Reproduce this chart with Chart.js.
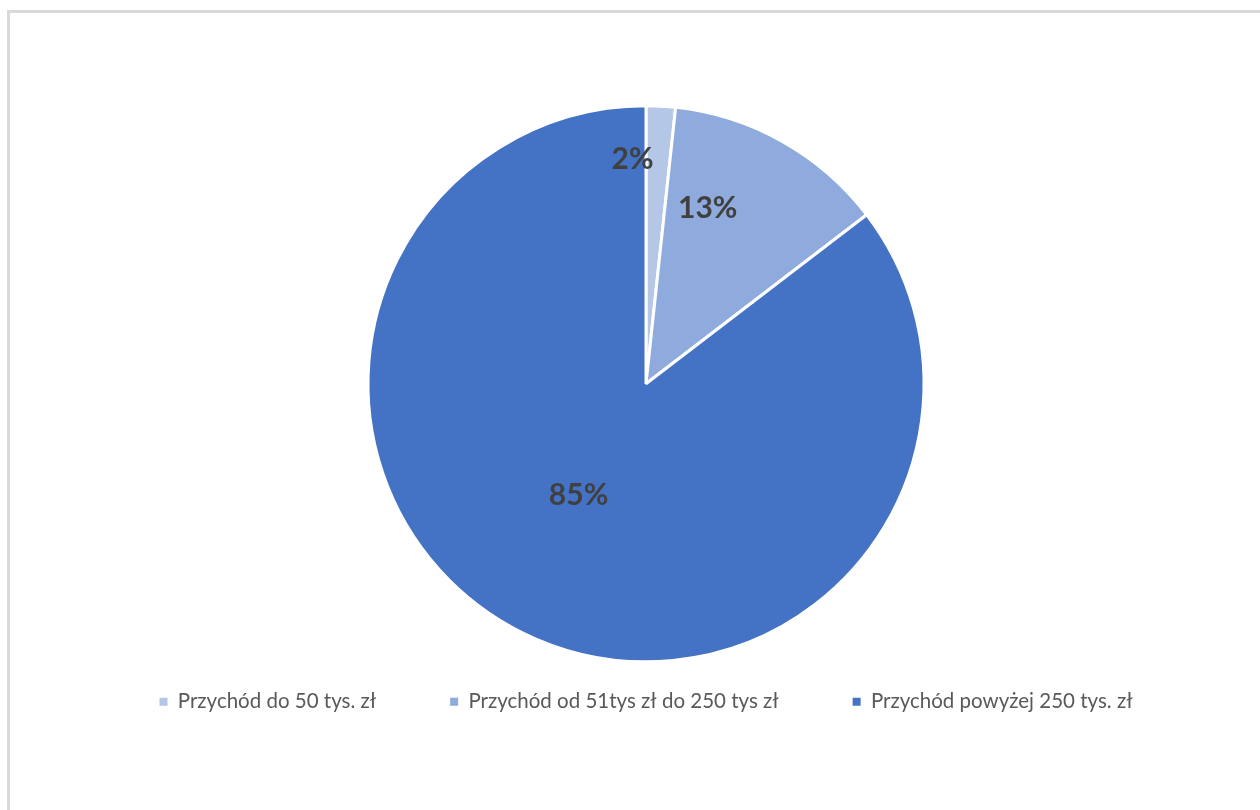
<!DOCTYPE html>
<html>
<head>
<meta charset="utf-8">
<script src="https://cdn.jsdelivr.net/npm/chart.js@4"></script>
<style>
  html, body { margin: 0; padding: 0; background: #fff; overflow: hidden; }
  body { width: 1260px; height: 810px; position: relative; }
  #frame {
    position: absolute; left: 7px; top: 10px; width: 1400px; height: 1000px;
    border-top: 3px solid #d9d9d9; border-left: 3px solid #d9d9d9;
  }
  #wrap { position: absolute; left: 10px; top: 12px; width: 1272px; height: 710px; }
</style>
</head>
<body>
<div id="frame"></div>
<div id="wrap"><canvas id="pieChart"></canvas></div>
<script>
// ---- Duomenys ----
const categories = [
  "Przychód do 50 tys. zł",
  "Przychód od 51tys zł do 250 tys zł",
  "Przychód powyżej 250 tys. zł"
];
const shares = [1.7, 12.9, 85.4];
const sliceColors = ["#b4c7e7", "#8faadc", "#4472c4"];

// ---- etikečių vietos (kampo poslinkis laipsniais, spindulio dalis) ----
const labelSpots = [
  { da: -6.5, rf: 0.81 },
  { da: -10, rf: 0.67 },
  { da: 4.8, rf: 0.47 }
];

const pctLabels = {
  id: "pctLabels",
  afterDatasetsDraw(chart) {
    const ctx = chart.ctx;
    const meta = chart.getDatasetMeta(0);
    const total = shares.reduce((a, b) => a + b, 0);
    ctx.save();
    ctx.font = "bold 30px Lato";
    ctx.fillStyle = "#404040";
    ctx.textAlign = "center";
    ctx.textBaseline = "middle";
    meta.data.forEach((arc, i) => {
      const p = arc.getProps(["x", "y", "startAngle", "endAngle", "outerRadius"], true);
      const mid = (p.startAngle + p.endAngle) / 2 + labelSpots[i].da * Math.PI / 180;
      const r = p.outerRadius * labelSpots[i].rf;
      const txt = Math.round(shares[i] / total * 100) + "%";
      ctx.fillText(txt, p.x + Math.cos(mid) * r, p.y + Math.sin(mid) * r);
    });
    ctx.restore();
  }
};

new Chart(document.getElementById("pieChart"), {
  type: "pie",
  data: {
    labels: categories,
    datasets: [{
      data: shares,
      backgroundColor: sliceColors,
      borderColor: "#ffffff",
      borderWidth: 3,
      radius: 278,
      clip: false
    }]
  },
  options: {
    responsive: true,
    maintainAspectRatio: false,
    animation: false,
    layout: { padding: { top: 138, bottom: 0, left: 0, right: 0 } },
    plugins: {
      tooltip: { enabled: false },
      legend: {
        position: "bottom",
        labels: {
          color: "#595959",
          font: { family: "Lato", size: 20.5 },
          boxWidth: 8,
          boxHeight: 8,
          padding: 74,
          generateLabels: (chart) => categories.map((c, i) => ({
            text: c,
            fillStyle: sliceColors[i],
            strokeStyle: sliceColors[i],
            lineWidth: 0,
            fontColor: "#595959",
            hidden: false,
            index: i
          }))
        }
      }
    }
  },
  plugins: [pctLabels]
});
</script>
</body>
</html>
